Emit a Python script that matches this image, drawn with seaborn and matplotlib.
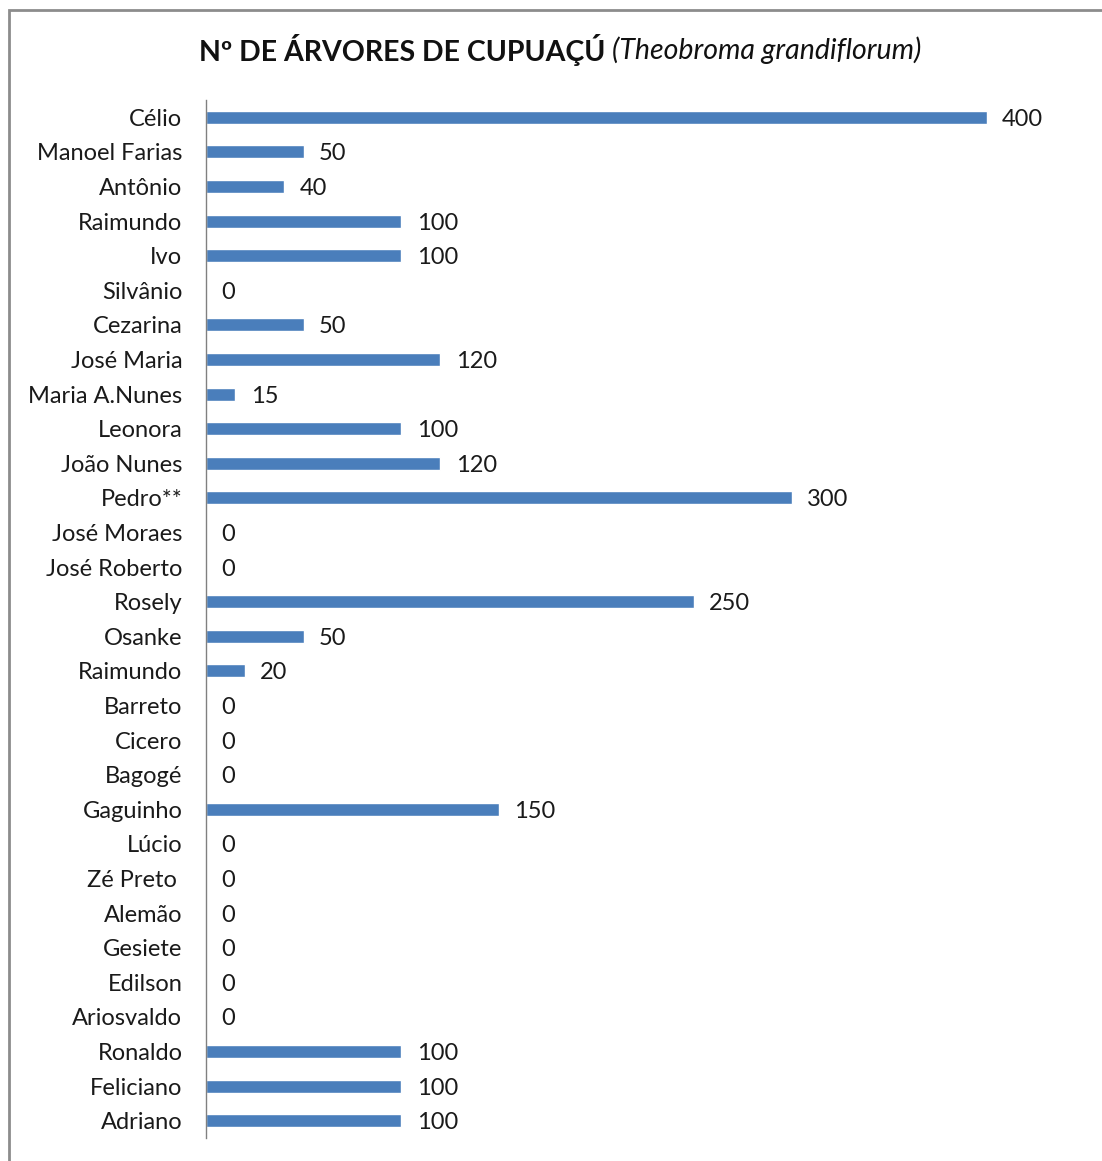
import pandas as pd
import seaborn as sns
import matplotlib.pyplot as plt
from matplotlib.patches import Rectangle

names = ["Célio", "Manoel Farias", "Antônio", "Raimundo", "Ivo", "Silvânio",
         "Cezarina", "José Maria", "Maria A.Nunes", "Leonora", "João Nunes",
         "Pedro**", "José Moraes", "José Roberto", "Rosely", "Osanke",
         "Raimundo", "Barreto", "Cicero", "Bagogé", "Gaguinho", "Lúcio",
         "Zé Preto ", "Alemão", "Gesiete", "Edilson", "Ariosvaldo", "Ronaldo",
         "Feliciano", "Adriano"]
trees = [400, 50, 40, 100, 100, 0, 50, 120, 15, 100, 120, 300, 0, 0, 250, 50,
         20, 0, 0, 0, 150, 0, 0, 0, 0, 0, 0, 100, 100, 100]

sns.set_style("white")
plt.rcParams["font.family"] = ["Lato", "DejaVu Sans"]
plt.rcParams["font.size"] = 17

df = pd.DataFrame({"slot": [f"s{i}" for i in range(len(names))],
                   "name": names, "trees": trees})

fig = plt.figure(figsize=(11.02, 11.61), dpi=100)
W, H = 1102, 1161
ax = fig.add_axes([206 / W, 1 - 1138 / H, 820 / W, 1038 / H])

sns.barplot(data=df, x="trees", y="slot", orient="h", color="#4a7ebb",
            saturation=1, width=0.37, ax=ax)
labels = ax.bar_label(ax.containers[0], padding=11, fontsize=17, color="#1a1a1a")
for t in labels:
    t.set_va("center")
    t.xyann = (11, -1.5)

ax.set_xlim(0, 420)
ax.set_ylim(len(names) - 0.5, -0.5)
ax.set_yticks(range(len(names)), labels=names)
ax.tick_params(axis="y", length=0, pad=17, labelsize=17, labelcolor="#1a1a1a")
ax.set_xticks([])
ax.set_xlabel("")
ax.set_ylabel("")
for s in ["top", "right", "bottom"]:
    ax.spines[s].set_visible(False)
ax.spines["left"].set_color("#808080")
ax.spines["left"].set_linewidth(1)

# outer frame
fig.patches.append(Rectangle((9 / W, -0.05), 1.0, 1.05 - 10 / H,
                             transform=fig.transFigure, fill=False,
                             edgecolor="#8c8c8c", linewidth=2))

# title: bold part + italic part
fig.canvas.draw()
r = fig.canvas.get_renderer()
ty = 1 - 50 / H
t1 = fig.text(0, ty, "Nº DE ÁRVORES DE CUPUAÇÚ ", fontsize=20.5,
              fontweight="bold", va="center", color="#111111")
t2 = fig.text(0, ty, "(Theobroma grandiflorum)", fontsize=20.5,
              fontstyle="italic", va="center", color="#111111")
w1 = t1.get_window_extent(r).width / W
w2 = t2.get_window_extent(r).width / W
x0 = 560 / W - (w1 + w2) / 2
t1.set_x(x0)
t2.set_x(x0 + w1)

fig.savefig("out.png", dpi=100)
